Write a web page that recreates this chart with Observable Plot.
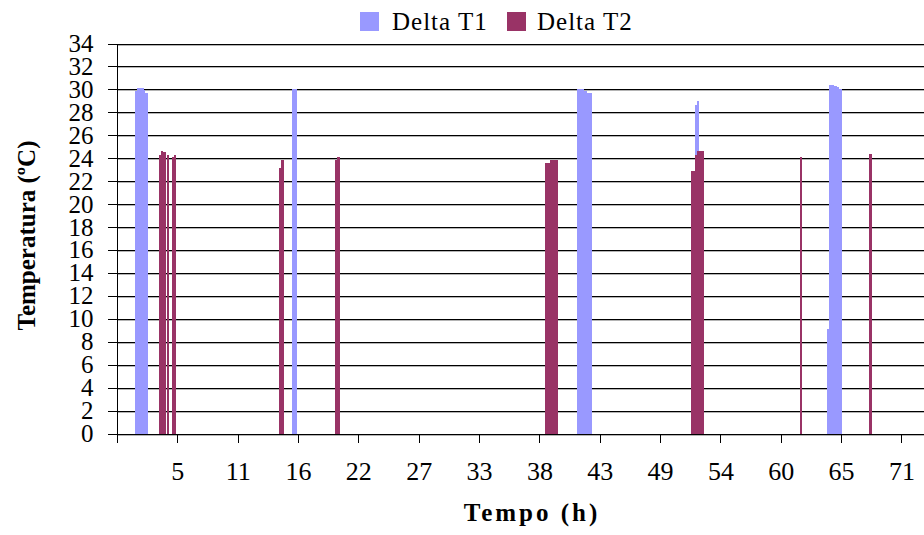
<!DOCTYPE html>
<html>
<head>
<meta charset="utf-8">
<script src="https://cdn.jsdelivr.net/npm/d3@7"></script>
<script src="https://cdn.jsdelivr.net/npm/@observablehq/plot@0.6"></script>
<style>
  html, body { margin: 0; padding: 0; background: #fff; }
  body { font-family: "Liberation Serif", "Times New Roman", serif; width: 924px; }
  #legend { position: relative; height: 34px; width: 924px; }
  .sw { position: absolute; top: 12px; width: 19px; height: 19px; }
  .lt { position: absolute; top: 8.5px; font-size: 25px; line-height: 25px; letter-spacing: 1px; color: #000; white-space: nowrap; }
  #chart svg { display: block; overflow: visible; }
</style>
</head>
<body>
<div id="legend"></div>
<div id="chart"></div>
<script>
// Series names and colours
const seriesNames = ["Delta T1", "Delta T2"];
const seriesColors = ["#9999FF", "#993366"];

// Delta T1 samples: [start hour, end hour, temperature °C]
const deltaT1 = [
  [1.63, 1.79, 29.85],
  [1.79, 2.44, 30.15],
  [2.44, 2.56, 29.95],
  [2.56, 2.83, 29.7],
  [15.76, 16.18, 30.03],
  [41.40, 42.06, 30.03],
  [42.06, 42.27, 29.86],
  [42.27, 42.75, 29.69],
  [52.03, 52.21, 28.64],
  [52.21, 52.36, 28.99],
  [63.87, 64.08, 9.11],
  [64.08, 64.53, 30.38],
  [64.53, 64.80, 30.32],
  [64.80, 65.00, 30.18],
  [65.00, 65.25, 30.06]
];

// Delta T2 samples: [start hour, end hour, temperature °C]
const deltaT2 = [
  [3.79, 3.97, 24.28],
  [3.97, 4.18, 24.66],
  [4.18, 4.40, 24.52],
  [4.51, 4.69, 24.28],
  [4.96, 5.14, 24.1],
  [5.14, 5.32, 24.28],
  [14.59, 14.80, 23.17],
  [14.80, 15.03, 23.84],
  [19.63, 19.83, 23.84],
  [19.83, 20.08, 24.1],
  [38.52, 38.97, 23.61],
  [38.97, 39.67, 23.84],
  [51.66, 52.03, 22.91],
  [52.03, 52.17, 24.28],
  [52.17, 52.80, 24.63],
  [61.47, 61.65, 24.1],
  [67.68, 67.95, 24.37]
];

// Axis ticks
const xTickValues = [0, 5.43, 10.86, 16.29, 21.72, 27.15, 32.58, 38.01, 43.44, 48.87, 54.30, 59.73, 65.16, 70.59];
const xTickLabels = ["", "5", "11", "16", "22", "27", "33", "38", "43", "49", "54", "60", "65", "71"];
const yTicks = [0, 2, 4, 6, 8, 10, 12, 14, 16, 18, 20, 22, 24, 26, 28, 30, 32, 34];
const xDomain = [0, 72.62];
const yDomain = [0, 34];

const toRows = (segs, series) => segs.map(([start, end, value]) => ({start, end, value, series}));
const rows1 = toRows(deltaT1, seriesNames[0]);
const rows2 = toRows(deltaT2, seriesNames[1]);

// Legend
const legend = document.getElementById("legend");
const legendLayout = [[360, 392], [507, 537]];
seriesNames.forEach((name, i) => {
  const sw = document.createElement("div");
  sw.className = "sw";
  sw.style.left = legendLayout[i][0] + "px";
  sw.style.background = seriesColors[i];
  const t = document.createElement("div");
  t.className = "lt";
  t.style.left = legendLayout[i][1] + "px";
  t.textContent = name;
  legend.appendChild(sw);
  legend.appendChild(t);
});

const crisp = {shapeRendering: "crispEdges"};
const chart = Plot.plot({
  width: 924,
  height: 501,
  marginLeft: 117,
  marginRight: 0,
  marginTop: 9.5,
  marginBottom: 101.5,
  style: {fontFamily: "Liberation Serif, Times New Roman, serif", background: "white", color: "#000", overflow: "visible"},
  x: {domain: xDomain},
  y: {domain: yDomain},
  marks: [
    Plot.ruleY(yTicks.slice(1), {stroke: "#b4b4b4", strokeWidth: 1, dy: 1, ...crisp}),
    Plot.ruleY(yTicks.slice(1), {stroke: "#000", strokeWidth: 1, ...crisp}),
    Plot.rect(rows1, {x1: "start", x2: "end", y1: 0, y2: "value", fill: seriesColors[0], ...crisp}),
    Plot.rect(rows2, {x1: "start", x2: "end", y1: 0, y2: "value", fill: seriesColors[1], ...crisp}),
    Plot.ruleY([0], {stroke: "#b4b4b4", dy: 1, ...crisp}),
    Plot.ruleY([0], {stroke: "#000", ...crisp}),
    Plot.ruleX([0], {y1: 0, y2: 34, stroke: "#000", ...crisp}),
    Plot.axisY({ticks: yTicks, tickSize: 9, tickPadding: 15, fontSize: 25, label: null, stroke: "#000", fill: "#000", ...crisp}),
    Plot.axisX({ticks: xTickValues, tickFormat: d => xTickLabels[xTickValues.indexOf(d)], tickSize: 9, tickPadding: 19, fontSize: 26, label: null, stroke: "#000", fill: "#000", ...crisp}),
    Plot.text(["Temperatura (ºC)"], {frameAnchor: "left", textAnchor: "middle", dx: -91, dy: -3.5, rotate: -90, fontSize: 25, fontWeight: "bold", fill: "#000"}),
    Plot.text(["Tempo (h)"], {frameAnchor: "bottom", textAnchor: "middle", dx: 11, dy: 87, fontSize: 25, fontWeight: "bold", fill: "#000"})
  ]
});
d3.select(chart).selectAll("text")
  .filter(function () { return this.textContent === "Tempo (h)"; })
  .attr("letter-spacing", 3);
document.getElementById("chart").appendChild(chart);
</script>
</body>
</html>
